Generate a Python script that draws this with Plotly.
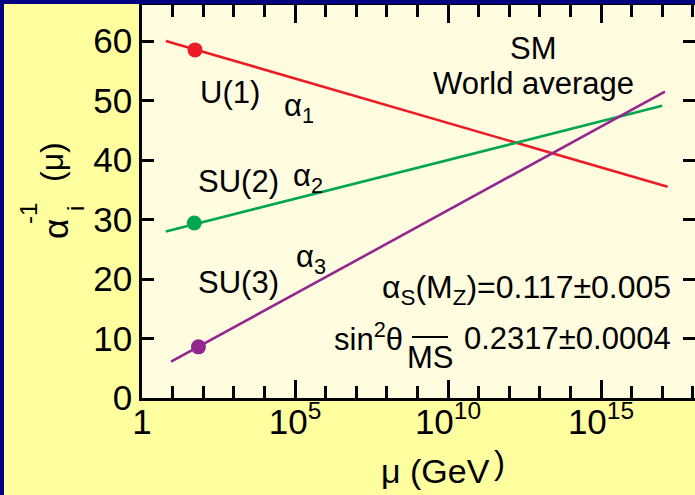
import plotly.graph_objects as go

# ---------------- data ----------------
# inverse couplings alpha_i^-1 versus scale mu (GeV)
u1_mu = [6.0, 1.5e17]
u1_inv = [60.0, 35.5]
su2_mu = [6.0, 1.0e17]
su2_inv = [28.0, 49.1]
su3_mu = [8.9, 1.23e17]
su3_inv = [6.1, 51.5]
# measured points near M_Z
u1_pt_mu = [54]
u1_pt_inv = [58.5]
su2_pt_mu = [51]
su2_pt_inv = [29.4]
su3_pt_mu = [70]
su3_pt_inv = [8.6]

x_tickvals = [1, 1e5, 1e10, 1e15]
x_ticktext = ["1", "10<sup>5</sup>", "10<sup>10</sup>", "10<sup>15</sup>"]
x_minorvals = [10.0 ** k for k in range(1, 19) if k % 5 != 0]
y_tickvals = [0, 10, 20, 30, 40, 50, 60]

RED = "#EC1C24"
GREEN = "#00A651"
PURPLE = "#92278F"
BLUE = "#000080"
PAPER = "#FFFFA0"
PLOTBG = "#FFFCE0"
FONT = "Liberation Sans, Arial, sans-serif"

# plot-area geometry in pixels
W, H = 695, 495
L, T, B, R = 142, 5, 398, 695
XRANGE = [0, (R - L) / 30.6]
YRANGE = [0, (B - T) / 5.95]


def px(x):
    return (x - L) / (R - L)


def py(y):
    return (B - y) / (B - T)


fig = go.Figure()
for mu, inv, col in [(u1_mu, u1_inv, RED), (su2_mu, su2_inv, GREEN), (su3_mu, su3_inv, PURPLE)]:
    fig.add_trace(go.Scatter(x=mu, y=inv, mode="lines", line=dict(color=col, width=2.6),
                             showlegend=False, hoverinfo="skip"))
for mu, inv, col in [(u1_pt_mu, u1_pt_inv, RED), (su2_pt_mu, su2_pt_inv, GREEN), (su3_pt_mu, su3_pt_inv, PURPLE)]:
    fig.add_trace(go.Scatter(x=mu, y=inv, mode="markers", marker=dict(color=col, size=15),
                             showlegend=False, hoverinfo="skip"))
# empty traces holding the right-hand tick axis and the x tick-label axis
fig.add_trace(go.Scatter(x=[], y=[], yaxis="y2", showlegend=False, hoverinfo="skip"))
fig.add_trace(go.Scatter(x=[], y=[], xaxis="x2", showlegend=False, hoverinfo="skip"))

tickfont = dict(family=FONT, size=35, color="black")

fig.update_layout(
    width=W, height=H, autosize=False,
    margin=dict(l=L, r=W - R, t=T, b=H - B, pad=0),
    paper_bgcolor=PAPER, plot_bgcolor=PLOTBG,
    font=dict(family=FONT, color="black"),
    xaxis=dict(
        type="log", range=XRANGE,
        tickvals=x_tickvals, showticklabels=False,
        ticks="inside", ticklen=18, tickwidth=2.5, tickcolor="black",
        showline=True, linewidth=2.5, linecolor="black", mirror="ticks",
        showgrid=False, zeroline=False,
        minor=dict(tickvals=x_minorvals, ticks="inside", ticklen=12, tickwidth=2.5,
                   tickcolor="black", showgrid=False),
    ),
    xaxis2=dict(
        type="log", range=XRANGE, overlaying="x", anchor="free", position=0, side="bottom",
        tickvals=x_tickvals, ticktext=x_ticktext, tickfont=tickfont,
        ticks="", showline=False, showgrid=False, zeroline=False,
    ),
    yaxis=dict(
        range=YRANGE, tickvals=y_tickvals, tickfont=tickfont,
        ticks="inside", ticklen=12, tickwidth=2.5, tickcolor="black",
        showline=True, linewidth=2.5, linecolor="black",
        showgrid=False, zeroline=False,
    ),
    yaxis2=dict(
        overlaying="y", side="right", range=YRANGE, tickvals=y_tickvals,
        ticks="inside", ticklen=12, tickwidth=2.5, tickcolor="black",
        showticklabels=False, showline=False, showgrid=False, zeroline=False,
    ),
)

ann = []


def text(x, y, s, size=31, xanchor="center", yanchor="middle", angle=0):
    ann.append(dict(x=px(x), y=py(y), xref="paper", yref="paper", text=s, showarrow=False,
                    xanchor=xanchor, yanchor=yanchor, textangle=angle,
                    font=dict(family=FONT, size=size, color="black")))


text(533, 48, "SM")
text(533, 83, "World average")
text(230, 92, "U(1)")
text(299, 108, "α<sub>1</sub>")
text(238, 181, "SU(2)")
text(308, 178, "α<sub>2</sub>")
text(238, 282, "SU(3)")
text(311, 259, "α<sub>3</sub>")
text(673, 289, "α<sub>S</sub>(M<sub>Z</sub>)=0.117±0.005", size=32, xanchor="right")
text(405, 337, "sin<sup>2</sup>θ", xanchor="right")
text(430, 357, "MS")
text(673, 338, "0.2317±0.0004", xanchor="right")
# axis titles
text(435, 471, "μ (GeV", size=34)
text(499, 462, ")", size=33)
text(55, 229, "α", size=35, angle=-90)
text(28, 214, "-1", size=24, angle=-90)
text(75, 209, "i", size=24, angle=-90)
text(52, 162, "(μ)", size=32, angle=-90)

fig.update_layout(annotations=ann)

fig.update_layout(shapes=[
    dict(type="line", xref="paper", yref="paper", x0=px(412), x1=px(448), y0=py(337), y1=py(337),
         line=dict(color="black", width=2)),
    dict(type="rect", xref="paper", yref="paper", x0=px(0), x1=px(4), y0=py(H), y1=py(0),
         fillcolor=BLUE, line=dict(width=0), layer="above"),
    dict(type="rect", xref="paper", yref="paper", x0=px(0), x1=px(W), y0=py(4), y1=py(0),
         fillcolor=BLUE, line=dict(width=0), layer="above"),
])

fig.write_html("out.html")
